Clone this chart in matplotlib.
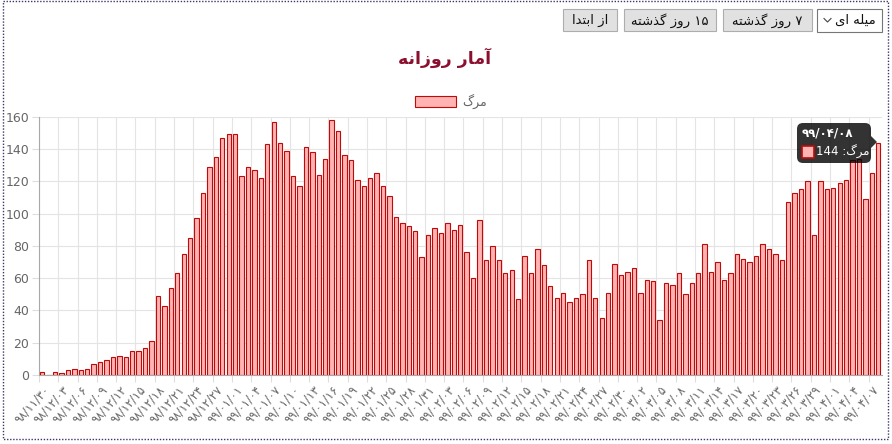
import re

import matplotlib
matplotlib.use('Agg')
import matplotlib.pyplot as plt
from matplotlib.patches import Rectangle, FancyBboxPatch, Polygon
from matplotlib.lines import Line2D
from matplotlib.transforms import Affine2D

W, H = 892, 444

# daily deaths, 98/11/30 .. 99/04/08
deaths = [2, 0, 2, 1, 3, 4, 3, 4, 7, 8,
          9, 11, 12, 11, 15, 15, 17, 21, 49, 43,
          54, 63, 75, 85, 97, 113, 129, 135, 147, 149,
          149, 123, 129, 127, 122, 143, 157, 144, 139, 123,
          117, 141, 138, 124, 134, 158, 151, 136, 133, 121,
          117, 122, 125, 117, 111, 98, 94, 92, 89, 73,
          87, 91, 88, 94, 90, 93, 76, 60, 96, 71,
          80, 71, 63, 65, 47, 74, 63, 78, 68, 55,
          48, 51, 45, 48, 50, 71, 48, 35, 51, 69,
          62, 64, 66, 51, 59, 58, 34, 57, 56, 63,
          50, 57, 63, 81, 64, 70, 59, 63, 75, 72,
          70, 74, 81, 78, 75, 71, 107, 113, 115, 120,
          87, 120, 115, 116, 119, 121, 133, 134, 109, 125, 144]

# one label every 3 days
tick_dates = ['98/11/30', '98/12/03', '98/12/06', '98/12/09', '98/12/12',
              '98/12/15', '98/12/18', '98/12/21', '98/12/24', '98/12/27',
              '99/01/01', '99/01/04', '99/01/07', '99/01/10', '99/01/13',
              '99/01/16', '99/01/19', '99/01/22', '99/01/25', '99/01/28',
              '99/01/31', '99/02/03', '99/02/06', '99/02/09', '99/02/12',
              '99/02/15', '99/02/18', '99/02/21', '99/02/24', '99/02/27',
              '99/02/30', '99/03/02', '99/03/05', '99/03/08', '99/03/11',
              '99/03/14', '99/03/17', '99/03/20', '99/03/23', '99/03/26',
              '99/03/29', '99/04/01', '99/04/04', '99/04/07']
tick_step = 3
last_date = '99/04/08'

title = 'آمار روزانه'
series_name = 'مرگ'
buttons = ['از ابتدا', '15 روز گذشته', '7 روز گذشته']
chart_type = 'میله ای'

FA_DIGITS = str.maketrans('0123456789', '۰۱۲۳۴۵۶۷۸۹')

# isolated, final, initial, medial presentation forms
FORMS = {
    '\u0622': '\uFE81\uFE82',
    '\u0627': '\uFE8D\uFE8E',
    '\u0628': '\uFE8F\uFE90\uFE91\uFE92',
    '\u062A': '\uFE95\uFE96\uFE97\uFE98',
    '\u062F': '\uFEA9\uFEAA',
    '\u0630': '\uFEAB\uFEAC',
    '\u0631': '\uFEAD\uFEAE',
    '\u0632': '\uFEAF\uFEB0',
    '\u0634': '\uFEB5\uFEB6\uFEB7\uFEB8',
    '\u0644': '\uFEDD\uFEDE\uFEDF\uFEE0',
    '\u0645': '\uFEE1\uFEE2\uFEE3\uFEE4',
    '\u0646': '\uFEE5\uFEE6\uFEE7\uFEE8',
    '\u0647': '\uFEE9\uFEEA\uFEEB\uFEEC',
    '\u0648': '\uFEED\uFEEE',
    '\u06CC': '\uFBFC\uFBFD\uFBFE\uFBFF',
    '\u06AF': '\uFB92\uFB93\uFB94\uFB95',
}


def fa(s):
    # shape persian letters and put the text in visual (left to right) order
    shaped = []
    for i, ch in enumerate(s):
        f = FORMS.get(ch)
        if f is None:
            shaped.append(ch)
            continue
        prev = s[i - 1] if i > 0 else ''
        nxt = s[i + 1] if i + 1 < len(s) else ''
        jp = prev in FORMS and len(FORMS[prev]) == 4
        jn = len(f) == 4 and nxt in FORMS
        shaped.append(f[[0, 2, 1, 3][jp * 2 + jn]] if len(f) == 4 else f[int(jp)])
    s = ''.join(shaped)
    runs = re.findall(r'[0-9\u06F0-\u06F9/]+|[^0-9\u06F0-\u06F9/]+', s)
    return ''.join(r if re.match(r'[0-9\u06F0-\u06F9]', r) else r[::-1]
                   for r in reversed(runs))


plt.rcParams['font.family'] = ['DejaVu Sans']

fig = plt.figure(figsize=(W / 100, H / 100), dpi=100)
PX = Affine2D().scale(1 / W, -1 / H).translate(0, 1) + fig.transFigure

ax = fig.add_axes([39 / W, 69 / H, (881.5 - 39) / W, (375 - 116.7) / H])

x = list(range(len(deaths)))
bars = ax.bar(x, deaths, width=0.68, color='#ffb3b3', edgecolor='#c00a0a',
              linewidth=0.8, label=fa(series_name), zorder=3)

ax.set_xlim(-0.5, len(deaths) - 0.5)
ax.set_ylim(0, 160)
ax.set_yticks(range(0, 161, 20))
ax.tick_params(axis='y', labelsize=9, labelcolor='#666666', color='#dddddd',
               length=5, width=0.8, pad=2)

ax.set_xticks(x[::tick_step])
ax.set_xticklabels([d.translate(FA_DIGITS) for d in tick_dates], rotation=48,
                   ha='right', va='top', rotation_mode='anchor')
ax.tick_params(axis='x', which='major', length=0, labelsize=8.5,
               labelcolor='#666666', pad=6)
ax.set_xticks([i - 0.5 for i in x[::tick_step]], minor=True)
ax.tick_params(axis='x', which='minor', length=5, color='#dddddd', width=0.8)

ax.grid(axis='y', color='#e4e4e4', linewidth=0.8, zorder=0)
ax.grid(axis='x', which='minor', color='#e4e4e4', linewidth=0.8, zorder=0)
ax.grid(axis='x', which='major', visible=False)
for side in ['top', 'right']:
    ax.spines[side].set_visible(False)
for side in ['left', 'bottom']:
    ax.spines[side].set_color('#a8a8a8')
    ax.spines[side].set_linewidth(0.8)

# title and legend
fig.text(445, 58, fa(title), transform=PX, ha='center', va='center',
         fontsize=12.5, fontweight='bold', color='#8b0f2e')
fig.legend(handles=[bars], loc='center', bbox_to_anchor=(451 / W, 1 - 101 / H),
           frameon=False, handlelength=3.3, handleheight=1.0, handletextpad=0.5,
           fontsize=9, labelcolor='#666666')

# tooltip on the last bar
tip = FancyBboxPatch((797, 123), 74, 40, boxstyle='round,pad=0,rounding_size=6',
                     transform=PX, facecolor='#000000', alpha=0.8,
                     edgecolor='none', zorder=10)
fig.add_artist(tip)
fig.add_artist(Polygon([(871, 136), (877, 142), (871, 148)], closed=True,
                       transform=PX, facecolor='#000000', alpha=0.8,
                       edgecolor='none', zorder=10))
fig.text(827, 133, last_date.translate(FA_DIGITS), transform=PX, ha='center',
         va='center', fontsize=8.5, fontweight='bold', color='white', zorder=11)
fig.add_artist(Rectangle((802, 146), 12, 12, transform=PX, facecolor='#ffb3b3',
                         edgecolor='#c00a0a', linewidth=1.2, zorder=11))
fig.text(843, 152, fa(series_name + ': ' + str(deaths[-1])), transform=PX,
         ha='center', va='center', fontsize=8.5, color='white', zorder=11)

# buttons row
btn_boxes = [(563, 617), (624, 716), (723, 812)]
for (x0, x1), label in zip(btn_boxes, buttons):
    fig.add_artist(Rectangle((x0, 9), x1 - x0, 22, transform=PX,
                             facecolor='#e1e1e1', edgecolor='#adadad',
                             linewidth=0.8))
    fig.text((x0 + x1) / 2, 20.5, fa(label.translate(FA_DIGITS)), transform=PX,
             ha='center', va='center', fontsize=9.5, color='#111111')

fig.add_artist(Rectangle((817, 9), 65, 23, transform=PX, facecolor='white',
                         edgecolor='#767676', linewidth=0.8))
fig.text(876, 20.5, fa(chart_type), transform=PX, ha='right', va='center',
         fontsize=9.5, color='#111111')
fig.add_artist(Line2D([824, 827.5, 831], [18.5, 22, 18.5], transform=PX,
                      color='#444444', linewidth=0.8))

# dotted frame
fig.add_artist(Rectangle((2.5, 1.5), 885, 437, transform=PX, fill=False,
                         edgecolor='#3f3566', linewidth=1.0,
                         linestyle=(0, (1, 1.2))))

fig.savefig('out.png', dpi=100)
